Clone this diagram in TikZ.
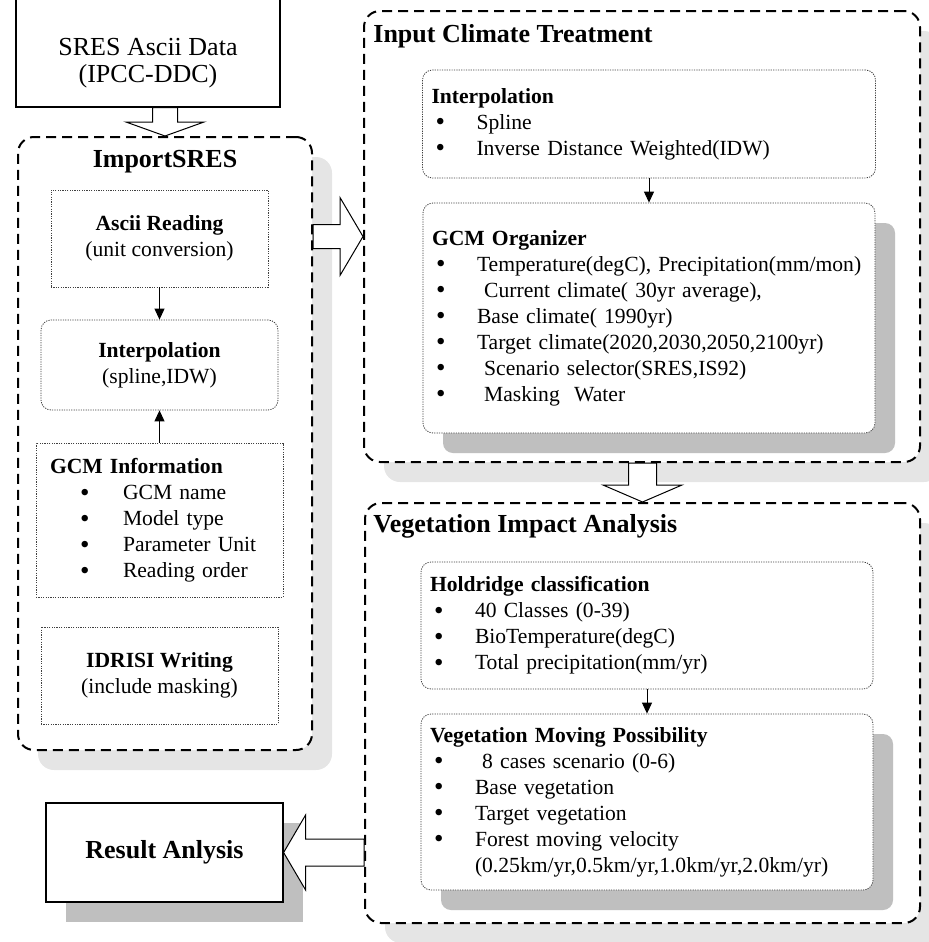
\documentclass[tikz,border=0pt]{standalone}
\usepackage{fontspec}
\setmainfont{Liberation Serif}
\usetikzlibrary{positioning,shadows,arrows.meta,calc}
\newcommand{\bigbullet}{\raisebox{-0.9pt}{\smash{\fontsize{13.5}{13}\selectfont\textbullet}}}
\newcommand{\ritem}[1]{\hspace*{2pt}\makebox[20.5pt][l]{\bigbullet}\mbox{#1}}
\newcommand{\litem}[1]{\hspace*{15pt}\makebox[21.5pt][l]{\bigbullet}\mbox{#1}}
\tikzset{
  txt/.style={font=\fontsize{10.8}{13}\selectfont, inner sep=0pt},
  grouptitle/.style={font=\fontsize{13}{15}\selectfont\bfseries, inner sep=0pt},
  group/.style={draw, line width=1pt, dash pattern=on 5pt off 3pt, rounded corners=8pt, fill=white, inner sep=0pt,
    drop shadow={shadow xshift=10pt, shadow yshift=-10pt, fill=black!10, opacity=1}},
  dotbox/.style={txt, draw=black!75, line width=0.4pt, dash pattern=on 0.6pt off 0.6pt, fill=white, align=center},
  rdotbox/.style={dotbox, rounded corners=5pt},
  listbox/.style={rdotbox, align=left, inner xsep=4.5pt},
  deepshadow/.style={drop shadow={shadow xshift=10pt, shadow yshift=-10pt, fill=black!25, opacity=1}},
  plainbox/.style={draw, line width=0.6pt, fill=white, inner sep=0pt},
  arr/.style={-{Triangle[length=5.5pt,width=5pt]}, line width=0.5pt},
  blockarrow/.style={draw, line width=0.5pt, fill=white, line join=miter}
}

\begin{document}
\begin{tikzpicture}[x=0.5pt, y=-0.5pt]
    \useasboundingbox (0,0) rectangle (928,942);

    % left column
    \node[plainbox, minimum width=132pt, minimum height=55.5pt] (sres) at (148,51.5) {};
    \node[font=\fontsize{13}{13.5}\selectfont, align=center, inner sep=0pt] (sreslbl) at (148,63) {SRES Ascii Data\\(IPCC-DDC)};

    \node[group, minimum width=147pt, minimum height=306.5pt] (imp) at (165,443.5) {};
    \node[grouptitle] (imptitle) at (165,162) {ImportSRES};

    \node[dotbox, minimum width=108.5pt, minimum height=48.5pt] (ascii) at (159.5,238.5) {\textbf{Ascii Reading}\\(unit conversion)};
    \node[rdotbox, minimum width=118.5pt, minimum height=45pt] (interpL) at (159.5,365) {\textbf{Interpolation}\\(spline,IDW)};
    \node[dotbox, align=left, inner xsep=7pt, text width=109.5pt, minimum height=77pt] (gcminfo) at (159.5,520)
        {\textbf{GCM Information}\\ \litem{GCM name}\\ \litem{Model type}\\ \litem{Parameter Unit}\\ \litem{Reading order}};
    \node[dotbox, minimum width=118.5pt, minimum height=48.5pt] (idrisi) at (159.5,675.5) {\textbf{IDRISI Writing}\\(include masking)};

    \node[plainbox, minimum width=118.5pt, minimum height=49.5pt, font=\fontsize{13}{15}\selectfont\bfseries,
        drop shadow={shadow xshift=10pt, shadow yshift=-10pt, fill=black!25, opacity=1}] (result) at (164.5,852.5) {Result Anlysis};

    % right column
    \node[group, minimum width=278pt, minimum height=225.5pt] (ict) at (642,236.5) {};
    \node[grouptitle, anchor=west] (icttitle) at (373,36) {Input Climate Treatment};

    \node[listbox, text width=217.5pt, minimum height=54pt] (interpR) at (649,124)
        {\textbf{Interpolation}\\ \ritem{Spline}\\ \ritem{Inverse Distance Weighted(IDW)}};
    \node[listbox, deepshadow, text width=217pt, minimum height=115pt] (gcmorg) at (649,318)
        {\textbf{GCM Organizer}\\
         \ritem{Temperature(degC), Precipitation(mm/mon)}\\
         \ritem{\ Current climate( 30yr average),}\\
         \ritem{Base climate( 1990yr)}\\
         \ritem{Target climate(2020,2030,2050,2100yr)}\\
         \ritem{\ Scenario selector(SRES,IS92)}\\
         \ritem{\ Masking\ \ Water}};

    \node[group, minimum width=277.5pt, minimum height=210pt] (via) at (642.5,713) {};
    \node[grouptitle, anchor=west] (viatitle) at (373,526) {Vegetation Impact Analysis};

    \node[listbox, text width=217pt, minimum height=63.5pt] (hold) at (647,625.5)
        {\textbf{Holdridge classification}\\ \ritem{40 Classes (0-39)}\\ \ritem{BioTemperature(degC)}\\ \ritem{Total precipitation(mm/yr)}};
    \node[listbox, deepshadow, text width=217pt, minimum height=88pt] (vmp) at (647,802)
        {\textbf{Vegetation Moving Possibility}\\
         \ritem{\ 8 cases scenario (0-6)}\\
         \ritem{Base vegetation}\\
         \ritem{Target vegetation}\\
         \ritem{Forest moving velocity}\\
         \hspace*{22.5pt}(0.25km/yr,0.5km/yr,1.0km/yr,2.0km/yr)};

    \draw[arr] (ascii) -- (interpL);
    \draw[arr] (gcminfo) -- (interpL);
    \draw[arr] (interpR) -- (gcmorg);
    \draw[arr] (hold) -- (vmp);

    % block arrows
    \draw[blockarrow] (imp.north) -- ++(-19.5pt,7pt) -- ++(13.25pt,0) coordinate (a1) -- (a1 |- sres.south)
        -- ++(12.5pt,0) coordinate (a2) -- (a2 |- a1) -- ++(13.25pt,0) -- cycle;
    \draw[blockarrow] (ict.west) -- ++(-11.5pt,19.5pt) -- ++(0,-13.5pt) coordinate (b1) -- (b1 -| imp.east)
        -- ++(0,-12pt) coordinate (b2) -- (b2 -| b1) -- ++(0,-13.5pt) -- cycle;
    \draw[blockarrow] (via.north) -- ++(-19.75pt,8.5pt) -- ++(12.75pt,0) coordinate (c1) -- (c1 |- ict.south)
        -- ++(14pt,0) coordinate (c2) -- (c2 |- c1) -- ++(12.75pt,0) -- cycle;
    \draw[blockarrow] (result.east) -- ++(11pt,18.75pt) -- ++(0,-12pt) coordinate (d1) -- (d1 -| via.west)
        -- ++(0,-13.5pt) coordinate (d2) -- (d2 -| d1) -- ++(0,-12pt) -- cycle;
\end{tikzpicture}
\end{document}
